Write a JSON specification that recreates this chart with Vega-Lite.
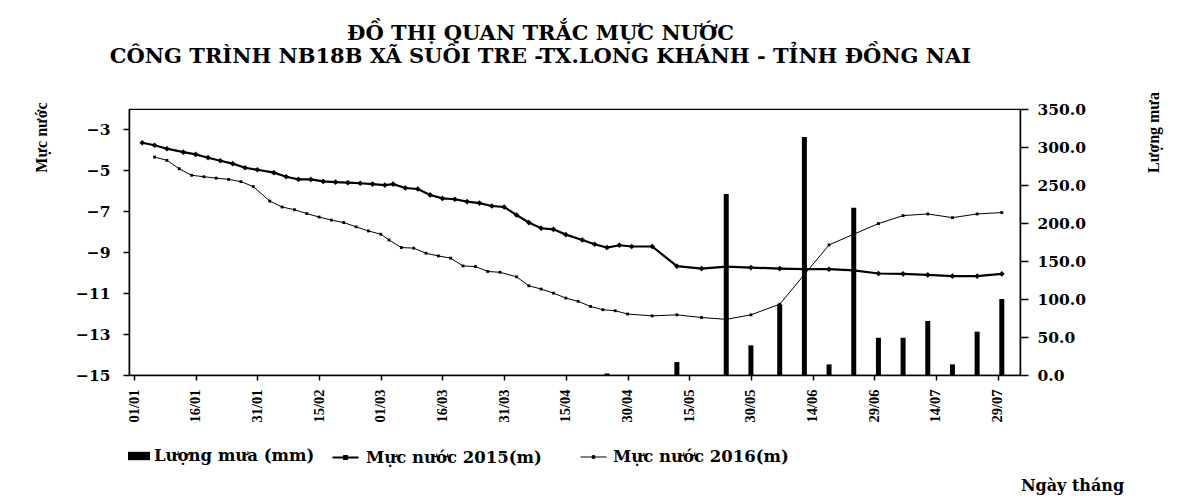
{
  "$schema": "https://vega.github.io/schema/vega-lite/v6.json",
  "width": 891,
  "height": 266,
  "autosize": {"type": "none"},
  "padding": {"left": 129, "top": 109, "right": 171, "bottom": 123},
  "background": "white",
  "config": {
    "view": {"stroke": "black", "strokeWidth": 1.2},
    "axis": {"grid": false, "domainColor": "black", "tickColor": "black", "labelColor": "black", "titleColor": "black", "domainWidth": 1.5, "tickWidth": 1.5}
  },
  "title": {
    "text": ["ĐỒ THỊ QUAN TRẮC MỰC NƯỚC", "CÔNG TRÌNH NB18B  XÃ SUỐI TRE -TX.LONG KHÁNH - TỈNH ĐỒNG NAI"],
    "font": "DejaVu Serif", "fontSize": 21, "fontWeight": "bold", "color": "black",
    "anchor": "middle", "frame": "group", "dx": -34, "offset": 25, "lineHeight": 23
  },
  "datasets": {
    "rain": [
      {"date": "2016-04-25T00:00:00", "mm": 2, "series": "Lượng mưa (mm)"},
      {"date": "2016-05-12T00:00:00", "mm": 17, "series": "Lượng mưa (mm)"},
      {"date": "2016-05-24T00:00:00", "mm": 238, "series": "Lượng mưa (mm)"},
      {"date": "2016-05-30T00:00:00", "mm": 39, "series": "Lượng mưa (mm)"},
      {"date": "2016-06-06T00:00:00", "mm": 93, "series": "Lượng mưa (mm)"},
      {"date": "2016-06-12T00:00:00", "mm": 313, "series": "Lượng mưa (mm)"},
      {"date": "2016-06-18T00:00:00", "mm": 14, "series": "Lượng mưa (mm)"},
      {"date": "2016-06-24T00:00:00", "mm": 220, "series": "Lượng mưa (mm)"},
      {"date": "2016-06-30T00:00:00", "mm": 49, "series": "Lượng mưa (mm)"},
      {"date": "2016-07-06T00:00:00", "mm": 49, "series": "Lượng mưa (mm)"},
      {"date": "2016-07-12T00:00:00", "mm": 71, "series": "Lượng mưa (mm)"},
      {"date": "2016-07-18T00:00:00", "mm": 14, "series": "Lượng mưa (mm)"},
      {"date": "2016-07-24T00:00:00", "mm": 57, "series": "Lượng mưa (mm)"},
      {"date": "2016-07-30T00:00:00", "mm": 100, "series": "Lượng mưa (mm)"}
    ],
    "level": [
      {"date": "2016-01-03T00:00:00", "level": -3.65, "series": "Mực nước 2015(m)"},
      {"date": "2016-01-06T00:00:00", "level": -3.77, "series": "Mực nước 2015(m)"},
      {"date": "2016-01-09T00:00:00", "level": -3.94, "series": "Mực nước 2015(m)"},
      {"date": "2016-01-13T00:00:00", "level": -4.11, "series": "Mực nước 2015(m)"},
      {"date": "2016-01-16T00:00:00", "level": -4.22, "series": "Mực nước 2015(m)"},
      {"date": "2016-01-19T00:00:00", "level": -4.38, "series": "Mực nước 2015(m)"},
      {"date": "2016-01-22T00:00:00", "level": -4.53, "series": "Mực nước 2015(m)"},
      {"date": "2016-01-25T00:00:00", "level": -4.67, "series": "Mực nước 2015(m)"},
      {"date": "2016-01-28T00:00:00", "level": -4.87, "series": "Mực nước 2015(m)"},
      {"date": "2016-01-31T00:00:00", "level": -4.97, "series": "Mực nước 2015(m)"},
      {"date": "2016-02-04T00:00:00", "level": -5.11, "series": "Mực nước 2015(m)"},
      {"date": "2016-02-07T00:00:00", "level": -5.31, "series": "Mực nước 2015(m)"},
      {"date": "2016-02-10T00:00:00", "level": -5.44, "series": "Mực nước 2015(m)"},
      {"date": "2016-02-13T00:00:00", "level": -5.44, "series": "Mực nước 2015(m)"},
      {"date": "2016-02-16T00:00:00", "level": -5.54, "series": "Mực nước 2015(m)"},
      {"date": "2016-02-19T00:00:00", "level": -5.57, "series": "Mực nước 2015(m)"},
      {"date": "2016-02-22T00:00:00", "level": -5.60, "series": "Mực nước 2015(m)"},
      {"date": "2016-02-25T00:00:00", "level": -5.63, "series": "Mực nước 2015(m)"},
      {"date": "2016-02-28T00:00:00", "level": -5.67, "series": "Mực nước 2015(m)"},
      {"date": "2016-03-02T00:00:00", "level": -5.72, "series": "Mực nước 2015(m)"},
      {"date": "2016-03-04T00:00:00", "level": -5.67, "series": "Mực nước 2015(m)"},
      {"date": "2016-03-07T00:00:00", "level": -5.86, "series": "Mực nước 2015(m)"},
      {"date": "2016-03-10T00:00:00", "level": -5.91, "series": "Mực nước 2015(m)"},
      {"date": "2016-03-13T00:00:00", "level": -6.20, "series": "Mực nước 2015(m)"},
      {"date": "2016-03-16T00:00:00", "level": -6.37, "series": "Mực nước 2015(m)"},
      {"date": "2016-03-19T00:00:00", "level": -6.41, "series": "Mực nước 2015(m)"},
      {"date": "2016-03-22T00:00:00", "level": -6.53, "series": "Mực nước 2015(m)"},
      {"date": "2016-03-25T00:00:00", "level": -6.60, "series": "Mực nước 2015(m)"},
      {"date": "2016-03-28T00:00:00", "level": -6.74, "series": "Mực nước 2015(m)"},
      {"date": "2016-03-31T00:00:00", "level": -6.79, "series": "Mực nước 2015(m)"},
      {"date": "2016-04-03T00:00:00", "level": -7.18, "series": "Mực nước 2015(m)"},
      {"date": "2016-04-06T00:00:00", "level": -7.55, "series": "Mực nước 2015(m)"},
      {"date": "2016-04-09T00:00:00", "level": -7.83, "series": "Mực nước 2015(m)"},
      {"date": "2016-04-12T00:00:00", "level": -7.88, "series": "Mực nước 2015(m)"},
      {"date": "2016-04-15T00:00:00", "level": -8.14, "series": "Mực nước 2015(m)"},
      {"date": "2016-04-19T00:00:00", "level": -8.40, "series": "Mực nước 2015(m)"},
      {"date": "2016-04-22T00:00:00", "level": -8.61, "series": "Mực nước 2015(m)"},
      {"date": "2016-04-25T00:00:00", "level": -8.77, "series": "Mực nước 2015(m)"},
      {"date": "2016-04-28T00:00:00", "level": -8.66, "series": "Mực nước 2015(m)"},
      {"date": "2016-05-01T00:00:00", "level": -8.72, "series": "Mực nước 2015(m)"},
      {"date": "2016-05-06T00:00:00", "level": -8.72, "series": "Mực nước 2015(m)"},
      {"date": "2016-05-12T00:00:00", "level": -9.68, "series": "Mực nước 2015(m)"},
      {"date": "2016-05-18T00:00:00", "level": -9.80, "series": "Mực nước 2015(m)"},
      {"date": "2016-05-24T00:00:00", "level": -9.70, "series": "Mực nước 2015(m)"},
      {"date": "2016-05-30T00:00:00", "level": -9.75, "series": "Mực nước 2015(m)"},
      {"date": "2016-06-06T00:00:00", "level": -9.80, "series": "Mực nước 2015(m)"},
      {"date": "2016-06-12T00:00:00", "level": -9.83, "series": "Mực nước 2015(m)"},
      {"date": "2016-06-18T00:00:00", "level": -9.83, "series": "Mực nước 2015(m)"},
      {"date": "2016-06-24T00:00:00", "level": -9.89, "series": "Mực nước 2015(m)"},
      {"date": "2016-06-30T00:00:00", "level": -10.04, "series": "Mực nước 2015(m)"},
      {"date": "2016-07-06T00:00:00", "level": -10.06, "series": "Mực nước 2015(m)"},
      {"date": "2016-07-12T00:00:00", "level": -10.11, "series": "Mực nước 2015(m)"},
      {"date": "2016-07-18T00:00:00", "level": -10.17, "series": "Mực nước 2015(m)"},
      {"date": "2016-07-24T00:00:00", "level": -10.17, "series": "Mực nước 2015(m)"},
      {"date": "2016-07-30T00:00:00", "level": -10.06, "series": "Mực nước 2015(m)"},
      {"date": "2016-01-06T00:00:00", "level": -4.35, "series": "Mực nước 2016(m)"},
      {"date": "2016-01-09T00:00:00", "level": -4.51, "series": "Mực nước 2016(m)"},
      {"date": "2016-01-12T00:00:00", "level": -4.92, "series": "Mực nước 2016(m)"},
      {"date": "2016-01-15T00:00:00", "level": -5.24, "series": "Mực nước 2016(m)"},
      {"date": "2016-01-18T00:00:00", "level": -5.31, "series": "Mực nước 2016(m)"},
      {"date": "2016-01-21T00:00:00", "level": -5.38, "series": "Mực nước 2016(m)"},
      {"date": "2016-01-24T00:00:00", "level": -5.44, "series": "Mực nước 2016(m)"},
      {"date": "2016-01-27T00:00:00", "level": -5.55, "series": "Mực nước 2016(m)"},
      {"date": "2016-01-30T00:00:00", "level": -5.79, "series": "Mực nước 2016(m)"},
      {"date": "2016-02-03T00:00:00", "level": -6.50, "series": "Mực nước 2016(m)"},
      {"date": "2016-02-06T00:00:00", "level": -6.79, "series": "Mực nước 2016(m)"},
      {"date": "2016-02-09T00:00:00", "level": -6.92, "series": "Mực nước 2016(m)"},
      {"date": "2016-02-12T00:00:00", "level": -7.11, "series": "Mực nước 2016(m)"},
      {"date": "2016-02-15T00:00:00", "level": -7.28, "series": "Mực nước 2016(m)"},
      {"date": "2016-02-18T00:00:00", "level": -7.43, "series": "Mực nước 2016(m)"},
      {"date": "2016-02-21T00:00:00", "level": -7.55, "series": "Mực nước 2016(m)"},
      {"date": "2016-02-24T00:00:00", "level": -7.76, "series": "Mực nước 2016(m)"},
      {"date": "2016-02-27T00:00:00", "level": -7.96, "series": "Mực nước 2016(m)"},
      {"date": "2016-03-01T00:00:00", "level": -8.12, "series": "Mực nước 2016(m)"},
      {"date": "2016-03-03T00:00:00", "level": -8.40, "series": "Mực nước 2016(m)"},
      {"date": "2016-03-06T00:00:00", "level": -8.77, "series": "Mực nước 2016(m)"},
      {"date": "2016-03-09T00:00:00", "level": -8.80, "series": "Mực nước 2016(m)"},
      {"date": "2016-03-12T00:00:00", "level": -9.05, "series": "Mực nước 2016(m)"},
      {"date": "2016-03-15T00:00:00", "level": -9.18, "series": "Mực nước 2016(m)"},
      {"date": "2016-03-18T00:00:00", "level": -9.29, "series": "Mực nước 2016(m)"},
      {"date": "2016-03-21T00:00:00", "level": -9.67, "series": "Mực nước 2016(m)"},
      {"date": "2016-03-24T00:00:00", "level": -9.70, "series": "Mực nước 2016(m)"},
      {"date": "2016-03-27T00:00:00", "level": -9.94, "series": "Mực nước 2016(m)"},
      {"date": "2016-03-30T00:00:00", "level": -9.98, "series": "Mực nước 2016(m)"},
      {"date": "2016-04-03T00:00:00", "level": -10.20, "series": "Mực nước 2016(m)"},
      {"date": "2016-04-06T00:00:00", "level": -10.64, "series": "Mực nước 2016(m)"},
      {"date": "2016-04-09T00:00:00", "level": -10.80, "series": "Mực nước 2016(m)"},
      {"date": "2016-04-12T00:00:00", "level": -11.00, "series": "Mực nước 2016(m)"},
      {"date": "2016-04-15T00:00:00", "level": -11.24, "series": "Mực nước 2016(m)"},
      {"date": "2016-04-18T00:00:00", "level": -11.40, "series": "Mực nước 2016(m)"},
      {"date": "2016-04-21T00:00:00", "level": -11.65, "series": "Mực nước 2016(m)"},
      {"date": "2016-04-24T00:00:00", "level": -11.81, "series": "Mực nước 2016(m)"},
      {"date": "2016-04-27T00:00:00", "level": -11.86, "series": "Mực nước 2016(m)"},
      {"date": "2016-04-30T00:00:00", "level": -12.02, "series": "Mực nước 2016(m)"},
      {"date": "2016-05-06T00:00:00", "level": -12.11, "series": "Mực nước 2016(m)"},
      {"date": "2016-05-12T00:00:00", "level": -12.06, "series": "Mực nước 2016(m)"},
      {"date": "2016-05-18T00:00:00", "level": -12.19, "series": "Mực nước 2016(m)"},
      {"date": "2016-05-24T00:00:00", "level": -12.28, "series": "Mực nước 2016(m)"},
      {"date": "2016-05-30T00:00:00", "level": -12.06, "series": "Mực nước 2016(m)"},
      {"date": "2016-06-06T00:00:00", "level": -11.54, "series": "Mực nước 2016(m)"},
      {"date": "2016-06-18T00:00:00", "level": -8.64, "series": "Mực nước 2016(m)"},
      {"date": "2016-06-30T00:00:00", "level": -7.60, "series": "Mực nước 2016(m)"},
      {"date": "2016-07-06T00:00:00", "level": -7.21, "series": "Mực nước 2016(m)"},
      {"date": "2016-07-12T00:00:00", "level": -7.13, "series": "Mực nước 2016(m)"},
      {"date": "2016-07-18T00:00:00", "level": -7.31, "series": "Mực nước 2016(m)"},
      {"date": "2016-07-24T00:00:00", "level": -7.13, "series": "Mực nước 2016(m)"},
      {"date": "2016-07-30T00:00:00", "level": -7.06, "series": "Mực nước 2016(m)"}
    ]
  },
  "layer": [
    {
      "data": {"name": "rain"},
      "mark": {"type": "bar", "size": 5},
      "encoding": {
        "x": {
          "field": "date", "type": "temporal",
          "scale": {"domain": [{"year": 2016, "month": 1, "date": 1}, {"year": 2016, "month": 8, "date": 2, "hours": 5}]},
          "axis": {
            "values": [
              {"year": 2016, "month": 1, "date": 1}, {"year": 2016, "month": 1, "date": 16}, {"year": 2016, "month": 1, "date": 31},
              {"year": 2016, "month": 2, "date": 15}, {"year": 2016, "month": 3, "date": 1}, {"year": 2016, "month": 3, "date": 16},
              {"year": 2016, "month": 3, "date": 31}, {"year": 2016, "month": 4, "date": 15}, {"year": 2016, "month": 4, "date": 30},
              {"year": 2016, "month": 5, "date": 15}, {"year": 2016, "month": 5, "date": 30}, {"year": 2016, "month": 6, "date": 14},
              {"year": 2016, "month": 6, "date": 29}, {"year": 2016, "month": 7, "date": 14}, {"year": 2016, "month": 7, "date": 29}
            ],
            "format": "%d/%m", "labelAngle": -90, "labelFont": "Liberation Serif", "labelFontWeight": "bold", "labelFontSize": 14.5,
            "tickSize": 5, "labelPadding": 9, "labelOverlap": false, "labelFlush": false,
            "title": "Ngày tháng", "titleFont": "DejaVu Serif", "titleFontWeight": "bold", "titleFontSize": 16,
            "titleX": 943, "titleY": 110, "titleAlign": "center", "titleBaseline": "middle", "titleAnchor": null
          }
        },
        "y": {
          "field": "mm", "type": "quantitative",
          "scale": {"domain": [0, 350], "nice": false, "zero": true},
          "axis": {
            "orient": "right", "values": [0, 50, 100, 150, 200, 250, 300, 350], "format": ".1f",
            "labelFont": "DejaVu Serif", "labelFontWeight": "bold", "labelFontSize": 15.5, "tickSize": 8, "labelPadding": 9,
            "title": "Lượng mưa", "titleFont": "Liberation Serif", "titleFontWeight": "bold", "titleFontSize": 16,
            "titleAngle": -90, "titleX": 133, "titleY": 23, "titleAlign": "center", "titleBaseline": "middle"
          }
        },
        "fill": {
          "field": "series", "type": "nominal",
          "scale": {"range": ["black"]},
          "legend": {
            "orient": "none", "legendX": -1, "legendY": 336, "title": null, "padding": 0,
            "symbolType": "M-1,-0.38H1V0.38H-1Z", "symbolSize": 484, "symbolStrokeWidth": 0,
            "labelFont": "DejaVu Serif", "labelFontWeight": "bold", "labelFontSize": 16.5, "labelColor": "black", "labelOffset": 4, "labelLimit": 400
          }
        }
      }
    },
    {
      "data": {"name": "level"},
      "encoding": {
        "x": {"field": "date", "type": "temporal"},
        "y": {
          "field": "level", "type": "quantitative",
          "scale": {"domain": [-15, -2], "nice": false, "zero": false},
          "axis": {
            "orient": "left", "values": [-15, -13, -11, -9, -7, -5, -3], "format": "d",
            "labelFont": "DejaVu Serif", "labelFontWeight": "bold", "labelFontSize": 15.5, "tickSize": 6, "labelPadding": 13,
            "title": "Mực nước", "titleFont": "Liberation Serif", "titleFontWeight": "bold", "titleFontSize": 16,
            "titleAngle": -90, "titleX": -88, "titleY": 28, "titleAlign": "center", "titleBaseline": "middle"
          }
        }
      },
      "layer": [
        {
          "mark": {"type": "line"},
          "encoding": {
            "stroke": {
              "field": "series", "type": "nominal",
              "scale": {"domain": ["Mực nước 2015(m)", "Mực nước 2016(m)"], "range": ["black", "black"]},
              "legend": {
                "orient": "none", "legendX": 202, "legendY": 334, "direction": "horizontal", "title": null, "padding": 0,
                "symbolType": "M-1,0H1M-0.1,-0.1H0.1V0.1H-0.1Z", "symbolSize": 676, "symbolFillColor": "black",
                "labelFont": "DejaVu Serif", "labelFontWeight": "bold", "labelFontSize": 16.5, "labelColor": "black",
                "labelOffset": 6, "columnPadding": 36, "labelLimit": 400
              }
            },
            "strokeWidth": {
              "field": "series", "type": "nominal",
              "scale": {"domain": ["Mực nước 2015(m)", "Mực nước 2016(m)"], "range": [2.2, 1]},
              "legend": {
                "orient": "none", "legendX": 202, "legendY": 334, "direction": "horizontal", "title": null, "padding": 0,
                "symbolType": "M-1,0H1M-0.1,-0.1H0.1V0.1H-0.1Z", "symbolSize": 676, "symbolFillColor": "black",
                "labelFont": "DejaVu Serif", "labelFontWeight": "bold", "labelFontSize": 16.5, "labelColor": "black",
                "labelOffset": 6, "columnPadding": 36, "labelLimit": 400
              }
            }
          }
        },
        {
          "transform": [{"filter": "datum.series === 'Mực nước 2015(m)'"}],
          "mark": {"type": "point", "shape": "diamond", "filled": true, "color": "black", "size": 32, "opacity": 1}
        },
        {
          "transform": [{"filter": "datum.series === 'Mực nước 2016(m)'"}],
          "mark": {"type": "point", "shape": "square", "filled": true, "color": "black", "size": 8, "opacity": 1}
        }
      ]
    }
  ],
  "resolve": {"scale": {"y": "independent"}}
}
